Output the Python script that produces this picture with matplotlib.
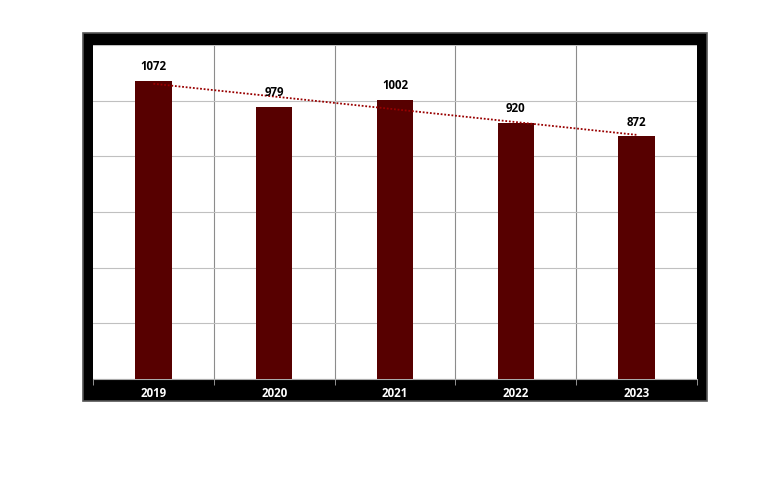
import numpy as np
import matplotlib.pyplot as plt
from matplotlib.patches import Rectangle

years = ['2019', '2020', '2021', '2022', '2023']
values = [1072, 979, 1002, 920, 872]

plt.rcParams['font.family'] = ['Open Sans', 'DejaVu Sans']

fig = plt.figure(figsize=(7.63, 4.84), dpi=100)

# black frame behind the plot area
frame = Rectangle((83 / 763, 1 - 401 / 484), 624 / 763, 368 / 484,
                  transform=fig.transFigure, facecolor='black',
                  edgecolor='#555555', linewidth=1.2, zorder=-1)
fig.patches.append(frame)

ax = fig.add_axes([93 / 763, 1 - 379 / 484, 604 / 763, 334 / 484])
ax.set_facecolor('white')

x = np.arange(len(years))
bars = ax.bar(x, values, width=0.3, color='#570000', zorder=3)

# labels above bars
for xi, v in zip(x, values):
    ax.text(xi, v + 28, str(v), ha='center', va='bottom',
            fontsize=8.3, fontweight='bold', color='black', zorder=5)

# linear trend
k, b = np.polyfit(x, values, 1)
ax.plot(x, k * x + b, color='#990000', linestyle=(0, (1, 1)),
        linewidth=1.3, zorder=4)

ax.set_xlim(-0.5, len(years) - 0.5)
ax.set_ylim(0, 1200)
ax.set_yticks(np.arange(0, 1201, 200))
ax.set_yticklabels([])
ax.tick_params(axis='y', length=0)

ax.yaxis.grid(True, color='#c0c0c0', linewidth=0.8, zorder=0)
for bnd in np.arange(0.5, len(years) - 0.5, 1):
    ax.axvline(bnd, color='#8c8c8c', linewidth=0.8, zorder=1)

ax.set_xticks(x)
ax.set_xticklabels(years, color='white', fontweight='bold', fontsize=8.3)
ax.set_xticks(np.arange(-0.5, len(years), 1), minor=True)
ax.tick_params(axis='x', which='major', length=0, pad=6)
ax.tick_params(axis='x', which='minor', length=4, color='#aaaaaa')

for s in ax.spines.values():
    s.set_visible(False)
ax.spines['bottom'].set_visible(True)
ax.spines['bottom'].set_color('#aaaaaa')

fig.savefig('out.png', dpi=100)
